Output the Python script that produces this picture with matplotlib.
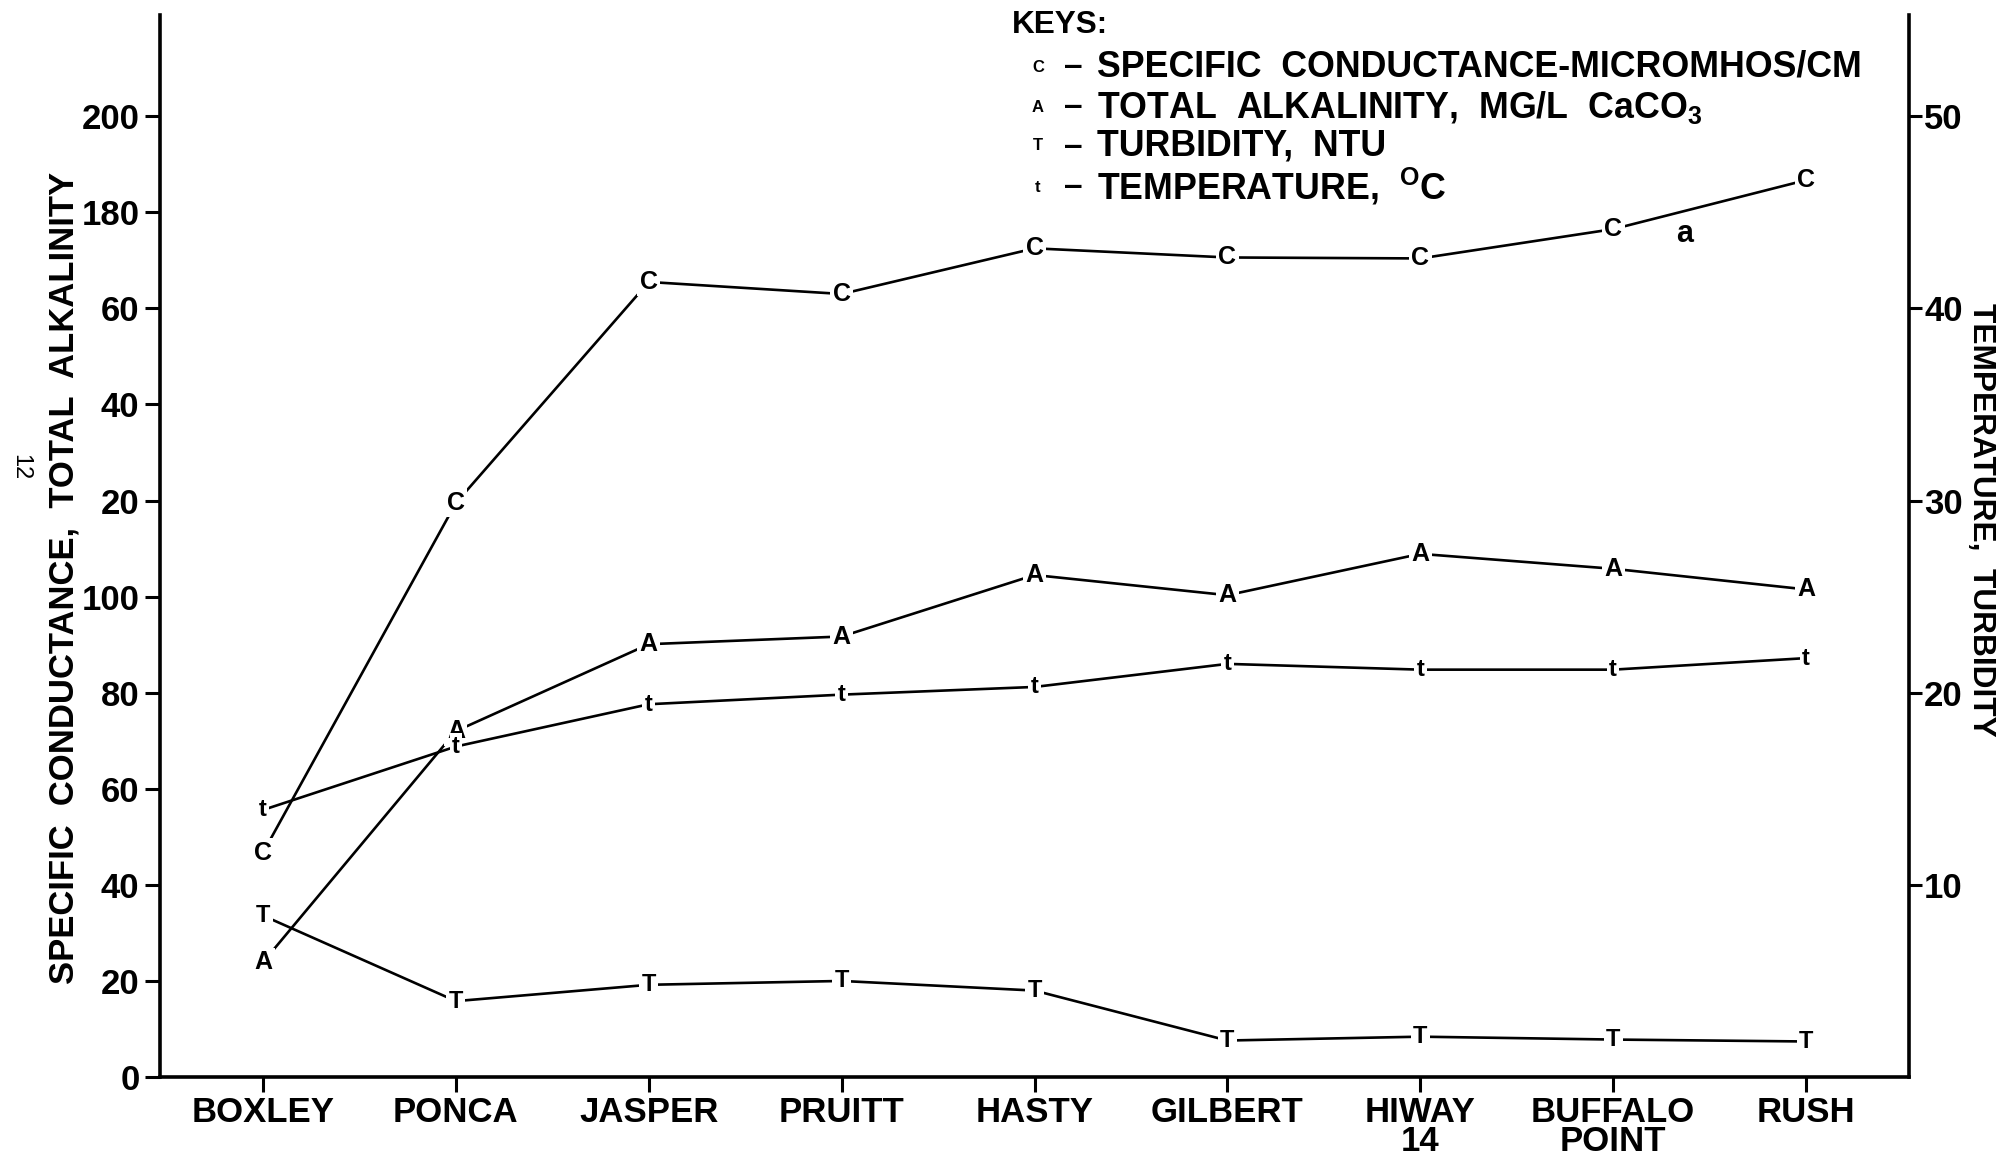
import matplotlib
matplotlib.use('Agg')
import matplotlib.pyplot as plt

# station names along the river
stations = ['BOXLEY', 'PONCA', 'JASPER', 'PRUITT', 'HASTY', 'GILBERT',
            'HIWAY\n14', 'BUFFALO\nPOINT', 'RUSH']

# left axis series
conductance = [46.7, 119.5, 165.5, 163.0, 172.5, 170.6, 170.4, 176.5, 186.7]
alkalinity = [23.9, 72.0, 90.1, 91.7, 104.5, 100.3, 108.9, 105.8, 101.5]

# right axis series
temperature = [13.9, 17.2, 19.4, 19.9, 20.3, 21.5, 21.2, 21.2, 21.8]
turbidity = [8.4, 3.95, 4.8, 5.0, 4.5, 1.9, 2.1, 1.95, 1.85]

left_ticks = [0, 20, 40, 60, 80, 100, 120, 140, 160, 180, 200]
left_ticklabels = ['0', '20', '40', '60', '80', '100', '20', '40', '60', '180', '200']
right_ticks = [10, 20, 30, 40, 50]

keys = [('C', 'SPECIFIC  CONDUCTANCE-MICROMHOS/CM'),
        ('A', 'TOTAL  ALKALINITY,  MG/L  CaCO$_3$'),
        ('T', 'TURBIDITY,  NTU'),
        ('t', 'TEMPERATURE,  $^{O}$C')]

FONT = ['Liberation Sans', 'DejaVu Sans']

plt.rcParams['mathtext.fontset'] = 'custom'
plt.rcParams['mathtext.rm'] = 'Liberation Sans:bold'
plt.rcParams['mathtext.default'] = 'rm'

W, H = 2003, 1154
fig = plt.figure(figsize=(W / 100, H / 100), dpi=100)
ax = fig.add_axes([0.080, 0.0667, 0.873, 0.92])
ax2 = ax.twinx()

x = list(range(len(stations)))
ymax = 221.0
ax.set_xlim(-0.533, len(stations) - 1 + 0.533)
ax.set_ylim(0, ymax)
ax2.set_ylim(0, ymax / 4)


def draw_series(axis, values, letter, size=17):
    axis.plot(x, values, color='black', lw=1.9, zorder=2)
    for xi, yi in zip(x, values):
        axis.text(xi, yi, letter, ha='center', va='center', fontsize=size,
                  fontweight='bold', family=FONT, zorder=3,
                  bbox=dict(boxstyle='square,pad=0.1', fc='white', ec='none'))


draw_series(ax, conductance, 'C', size=18)
draw_series(ax, alkalinity, 'A', size=18)
draw_series(ax2, turbidity, 'T')
draw_series(ax2, temperature, 't')

# spines
for a in (ax, ax2):
    a.spines['top'].set_visible(False)
    for s in ('left', 'right', 'bottom'):
        a.spines[s].set_linewidth(2.6)
ax.spines['right'].set_visible(False)
ax2.spines['left'].set_visible(False)
ax2.spines['bottom'].set_visible(False)

ax.set_xticks(x)
ax.set_xticklabels(stations, fontsize=25, fontweight='bold', family=FONT,
                   linespacing=0.82)
ax.set_yticks(left_ticks)
ax.set_yticklabels(left_ticklabels, fontsize=25, fontweight='bold', family=FONT)
ax.tick_params(axis='both', direction='out', length=11, width=2.2, pad=4)
ax.tick_params(axis='x', pad=3)

ax2.set_yticks(right_ticks)
ax2.set_yticklabels([str(v) for v in right_ticks], fontsize=25,
                    fontweight='bold', family=FONT)
ax2.tick_params(axis='y', direction='out', length=9, width=2.2, pad=2)

renderer = fig.canvas.get_renderer()


def fit_text(t, target_px, horizontal=True):
    # scale the font so the text spans the same length as in the reference
    bb = t.get_window_extent(renderer)
    cur = bb.width if horizontal else bb.height
    t.set_fontsize(t.get_fontsize() * target_px / cur)


ylab = fig.text(64 / W, 1 - 578 / H, 'SPECIFIC  CONDUCTANCE,  TOTAL  ALKALINITY',
                fontsize=24, fontweight='bold', family=FONT, rotation=90,
                ha='center', va='center')
fit_text(ylab, 812, horizontal=False)

rlab = fig.text(1981 / W, 1 - 520 / H, 'TEMPERATURE,  TURBIDITY', fontsize=22,
                fontweight='bold', family=FONT, rotation=-90,
                ha='center', va='center')
fit_text(rlab, 432, horizontal=False)

# key block
keys_title = fig.text(1012 / W, 1 - 25 / H, 'KEYS:', fontsize=22,
                      fontweight='bold', family=FONT, va='center', ha='left')
fit_text(keys_title, 96)
key_y = [67, 107, 146, 187]
key_texts = []
for (letter, label), ky in zip(keys, key_y):
    fig.text(1038 / W, 1 - ky / H, letter, fontsize=12, fontweight='bold',
             family=FONT, va='center', ha='center')
    fig.text(1073 / W, 1 - ky / H, '–', fontsize=24, fontweight='bold',
             family=FONT, va='center', ha='center')
    key_texts.append(fig.text(1097 / W, 1 - ky / H, label, fontsize=24,
                              fontweight='bold', family=FONT, va='center',
                              ha='left'))
bb = key_texts[0].get_window_extent(renderer)
scale = 766 / bb.width
for kt in key_texts:
    kt.set_fontsize(kt.get_fontsize() * scale)

ax.text(7.37, 175.5, 'a', fontsize=22, fontweight='bold', family=FONT,
        ha='center', va='center')
fig.text(0.010, 0.595, '12', fontsize=17, family=FONT, rotation=-90,
         ha='center', va='center')

fig.savefig('out.png', dpi=100)
